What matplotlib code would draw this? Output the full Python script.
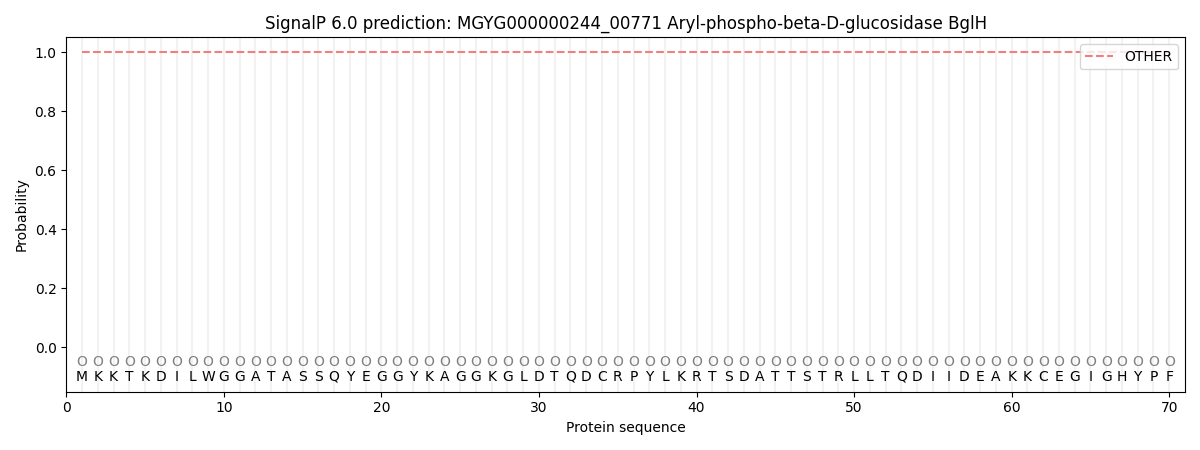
import numpy as np
import matplotlib
matplotlib.use("Agg")
import matplotlib.pyplot as plt

sequence = "MKKTKDILWGGATASSQYEGGYKAGGKGLDTQDCRPYLKRTSDATTSTRLLTQDIIDEAKKCEGIGHYPF"
labels = "O" * len(sequence)
positions = np.arange(1, len(sequence) + 1)
other_prob = np.ones(len(sequence))

fig, ax = plt.subplots(figsize=(12, 4.5), dpi=100)

for p in positions:
    ax.axvline(p, color="#f2f2f2", linewidth=1.5, zorder=0)

ax.plot(positions, other_prob, linestyle="--", color="#f08080", label="OTHER")

for p, aa, lab in zip(positions, sequence, labels):
    ax.text(p, -0.05, lab, ha="center", va="center", fontsize=10, color="grey")
    ax.text(p, -0.1, aa, ha="center", va="center", fontsize=10)

ax.set_xlim(0, len(sequence) + 1)
ax.set_ylim(-0.15, 1.05)
ax.set_xlabel("Protein sequence")
ax.set_ylabel("Probability")
ax.set_title("SignalP 6.0 prediction: MGYG000000244_00771 Aryl-phospho-beta-D-glucosidase BglH")
ax.legend(loc="upper right")

plt.tight_layout()
plt.savefig("out.png")
